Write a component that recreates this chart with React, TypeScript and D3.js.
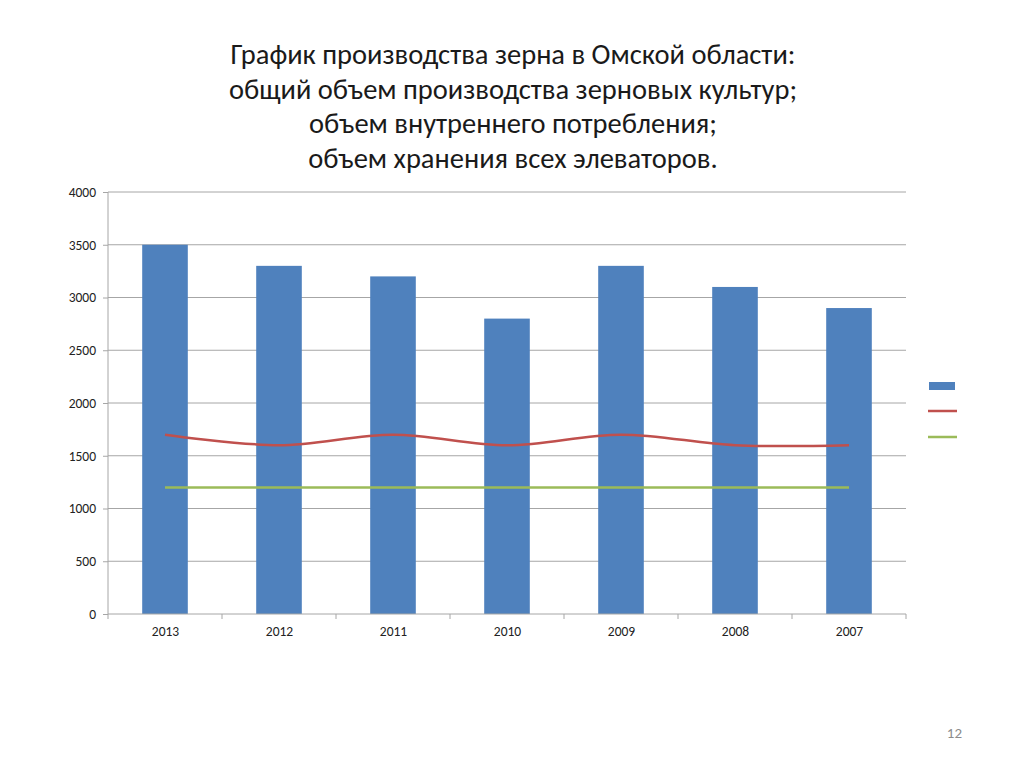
import React from "react";
import * as d3 from "d3";

const years = ["2013", "2012", "2011", "2010", "2009", "2008", "2007"];
const production = [3500, 3300, 3200, 2800, 3300, 3100, 2900];
const consumption = [1700, 1600, 1700, 1600, 1700, 1600, 1600];
const storage = [1200, 1200, 1200, 1200, 1200, 1200, 1200];
const yTicks = [0, 500, 1000, 1500, 2000, 2500, 3000, 3500, 4000];
const titleLines = [
  "График производства зерна в Омской области:",
  "общий объем производства зерновых культур;",
  "объем внутреннего потребления;",
  "объем хранения всех элеваторов.",
];

const App: React.FC = () => {
  const svgRef = React.useRef<SVGSVGElement | null>(null);

  React.useEffect(() => {
    if (!svgRef.current) return;
    const svg = d3.select(svgRef.current);
    svg.selectAll("*").remove();

    const width = 1024;
    const height = 768;
    const margin = { top: 192, right: 118, bottom: 154, left: 108 };
    const innerWidth = width - margin.left - margin.right;
    const innerHeight = height - margin.top - margin.bottom;
    const font = "Calibri, Carlito, 'Open Sans', sans-serif";

    svg.attr("width", width).attr("height", height);

    svg
      .append("g")
      .selectAll("text")
      .data(titleLines)
      .join("text")
      .attr("x", 513)
      .attr("y", (d, i) => 64 + i * 34.5)
      .attr("text-anchor", "middle")
      .attr("font-family", font)
      .attr("font-size", 28.5)
      .attr("fill", "#1a1a1a")
      .text((d) => d);

    const g = svg
      .append("g")
      .attr("transform", `translate(${margin.left}, ${margin.top})`);

    const x = d3.scaleBand().domain(years).range([0, innerWidth]).paddingInner(0.6).paddingOuter(0.3);
    const xc = d3.scalePoint().domain(years).range([0, innerWidth]).padding(0.5);
    const y = d3.scaleLinear().domain([0, 4000]).range([innerHeight, 0]);

    // grid
    g.append("g")
      .selectAll("line")
      .data(yTicks.filter((t) => t > 0))
      .join("line")
      .attr("x1", 0)
      .attr("x2", innerWidth)
      .attr("y1", (d) => y(d))
      .attr("y2", (d) => y(d))
      .attr("stroke", "#a6a6a6")
      .attr("stroke-width", 1);

    // bars
    g.append("g")
      .selectAll("rect")
      .data(production)
      .join("rect")
      .attr("x", (d, i) => x(years[i])!)
      .attr("width", x.bandwidth())
      .attr("y", (d) => y(d))
      .attr("height", (d) => innerHeight - y(d))
      .attr("fill", "#4F81BD");

    const line = d3
      .line<number>()
      .x((d, i) => xc(years[i])!)
      .y((d) => y(d))
      .curve(d3.curveCatmullRom.alpha(0.5));

    g.append("path")
      .datum(consumption)
      .attr("d", line)
      .attr("fill", "none")
      .attr("stroke", "#C0504D")
      .attr("stroke-width", 2.5);

    g.append("path")
      .datum(storage)
      .attr("d", line)
      .attr("fill", "none")
      .attr("stroke", "#9BBB59")
      .attr("stroke-width", 2.5);

    // y axis
    const yAxis = g
      .append("g")
      .call(d3.axisLeft(y).tickValues(yTicks).tickFormat(d3.format("d")).tickSize(5).tickPadding(7));
    yAxis.select(".domain").attr("stroke", "#a6a6a6").attr("d", `M0,0V${innerHeight}`);
    yAxis.selectAll(".tick line").attr("stroke", "#a6a6a6");
    yAxis
      .selectAll(".tick text")
      .attr("font-family", font)
      .attr("font-size", 13.5)
      .attr("fill", "#222");

    // x axis
    const xAxis = g
      .append("g")
      .attr("transform", `translate(0, ${innerHeight})`)
      .call(d3.axisBottom(xc).tickSize(0).tickPadding(12));
    xAxis.select(".domain").attr("stroke", "#a6a6a6").attr("d", `M0,0H${innerWidth}`);
    xAxis
      .selectAll(".tick text")
      .attr("font-family", font)
      .attr("font-size", 13.5)
      .attr("fill", "#222");
    xAxis
      .append("g")
      .selectAll("line")
      .data(d3.range(years.length + 1))
      .join("line")
      .attr("x1", (d) => (d * innerWidth) / years.length)
      .attr("x2", (d) => (d * innerWidth) / years.length)
      .attr("y1", 0)
      .attr("y2", 5)
      .attr("stroke", "#a6a6a6");

    // legend
    const legend = svg.append("g").attr("transform", "translate(929, 0)");
    legend.append("rect").attr("x", 0).attr("y", 382).attr("width", 26).attr("height", 8).attr("fill", "#4F81BD");
    legend.append("line").attr("x1", -1).attr("x2", 28).attr("y1", 411).attr("y2", 411).attr("stroke", "#C0504D").attr("stroke-width", 2.5);
    legend.append("line").attr("x1", -1).attr("x2", 28).attr("y1", 437).attr("y2", 437).attr("stroke", "#9BBB59").attr("stroke-width", 2.5);

    svg
      .append("text")
      .attr("x", 962)
      .attr("y", 738)
      .attr("text-anchor", "end")
      .attr("font-family", font)
      .attr("font-size", 15)
      .attr("fill", "#8c8c8c")
      .text("12");
  }, []);

  return <svg ref={svgRef} style={{ position: "absolute", left: 0, top: 0, background: "#fff" }}></svg>;
};

export default App;
